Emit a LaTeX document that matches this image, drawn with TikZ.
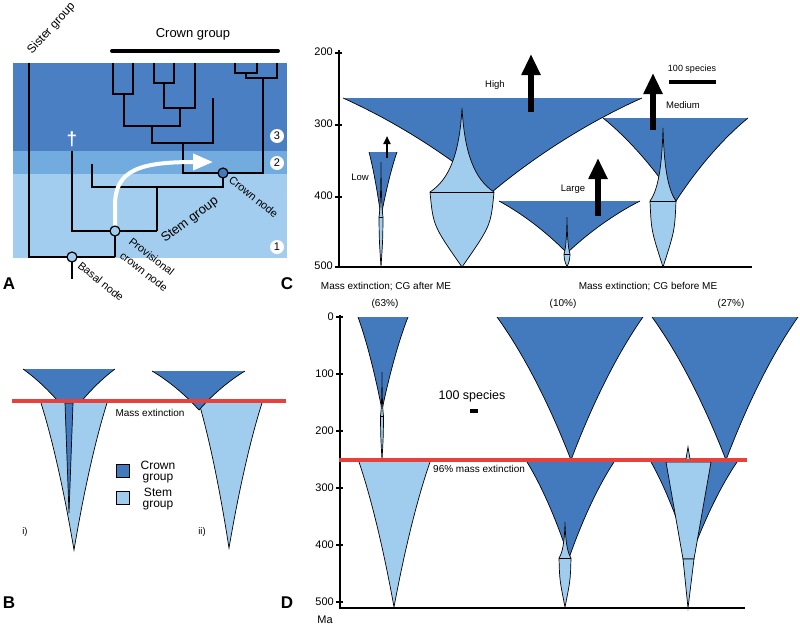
\documentclass[tikz,border=0pt]{standalone}
\usepackage{fontspec}
\setmainfont{Liberation Sans}
\usetikzlibrary{arrows.meta}
\definecolor{crownc}{HTML}{437ABE}
\definecolor{stemc}{HTML}{A0CDEE}
\definecolor{bandthree}{HTML}{4A80C3}
\definecolor{bandtwo}{HTML}{72ABDE}
\definecolor{bandone}{HTML}{A3CDEF}
\definecolor{redline}{HTML}{E8403A}
\tikzset{
  edge/.style={draw=black, line width=0.7pt},
  tree/.style={line width=2.3pt, line join=miter},
  nodec/.style={circle, draw=black, line width=1.2pt, minimum size=10pt, inner sep=0pt},
  numc/.style={circle, fill=white, minimum size=14pt, inner sep=0pt, font=\fontsize{11}{13}\selectfont},
  lblA/.style={font=\fontsize{13}{15}\selectfont, inner sep=0pt},
  lblS/.style={font=\fontsize{11}{13}\selectfont, inner sep=0pt},
  lblC/.style={font=\fontsize{9.5}{11}\selectfont, inner sep=0pt},
  lblT/.style={font=\fontsize{10}{12}\selectfont, inner sep=0pt},
  tickl/.style={font=\fontsize{11}{13}\selectfont, inner sep=0pt, anchor=east},
  letter/.style={font=\bfseries\fontsize{17}{19}\selectfont, inner sep=0pt},
  legbox/.style={draw=black, line width=0.8pt, minimum width=13pt, minimum height=13pt, inner sep=0pt},
  legtxt/.style={font=\fontsize{12}{11}\selectfont, align=center, inner sep=0pt},
  axisln/.style={line width=2pt},
  redln/.style={redline, line width=4.5pt},
  bigarr/.style={line width=5.5pt, -{Triangle[length=21pt,width=18pt]}},
  smallarr/.style={line width=2pt, -{Triangle[length=8pt,width=7pt]}},
  whitearr/.style={white, line width=4pt, -{Triangle[length=20pt,width=16pt]}}
}
% trumpet: fill, xl, xr, ytop, xapex, yapex
\newcommand\trumpet[6]{%
  \fill[#1] (#2,#4) -- (#3,#4) .. controls ({#3+0.35*(#5-#3)},{#4+0.25*(#6-#4)}) and ({#3+0.7*(#5-#3)},{#4+0.6*(#6-#4)}) .. (#5,#6) .. controls ({#2+0.7*(#5-#2)},{#4+0.6*(#6-#4)}) and ({#2+0.35*(#5-#2)},{#4+0.25*(#6-#4)}) .. cycle;
  \draw[edge] (#3,#4) .. controls ({#3+0.35*(#5-#3)},{#4+0.25*(#6-#4)}) and ({#3+0.7*(#5-#3)},{#4+0.6*(#6-#4)}) .. (#5,#6) .. controls ({#2+0.7*(#5-#2)},{#4+0.6*(#6-#4)}) and ({#2+0.35*(#5-#2)},{#4+0.25*(#6-#4)}) .. (#2,#4);}
% spindle: fill, xc, ytop, ywide, halfwidth, ybottom
\newcommand\spindle[6]{%
  \filldraw[fill=#1, edge] (#2,#3) .. controls ({#2-0.08*#5},{#3+0.55*(#4-#3)}) and ({#2-0.4*#5},{#3+0.85*(#4-#3)}) .. ({#2-#5},#4) .. controls ({#2-0.9*#5},{#4+0.45*(#6-#4)}) .. (#2,#6) .. controls ({#2+0.9*#5},{#4+0.45*(#6-#4)}) .. ({#2+#5},#4) .. controls ({#2+0.4*#5},{#3+0.85*(#4-#3)}) and ({#2+0.08*#5},{#3+0.55*(#4-#3)}) .. cycle;
  \draw[edge] ({#2-#5},#4) -- ({#2+#5},#4);}
\begin{document}
\begin{tikzpicture}[x=1pt,y=-1pt]
\useasboundingbox[fill=white] (0,0) rectangle (800,627);

% ================= Panel A =================
\fill[bandthree] (13,63) rectangle (287,151);
\fill[bandtwo] (13,151) rectangle (287,174);
\fill[bandone] (13,174) rectangle (287,258);
\draw[line width=4pt, line cap=round] (112,51) -- (278,51);
\node[lblA] (cgl) at (193,34) {Crown group};
\node[font=\fontsize{12}{14}\selectfont, inner sep=0pt, rotate=48, anchor=base west] (sister) at (32,55) {Sister group};

\draw[tree] (29,63) -- (29,257) -- (115,257);
\draw[tree] (72,257) -- (72,279);
\draw[tree] (115,257) -- (115,231);
\draw[tree] (72,151) -- (72,231) -- (157,231);
\draw[tree] (157,231) -- (157,187);
\draw[tree] (92,164) -- (92,187) -- (223,187) -- (223,173);
\draw[tree] (183,143) -- (183,173) -- (263,173) -- (263,78);
\draw[tree] (246,73) -- (246,78) -- (277,78) -- (277,63);
\draw[tree] (235,63) -- (235,73) -- (257,73) -- (257,63);
\draw[tree] (152,126) -- (152,143) -- (213,143) -- (213,98);
\draw[tree] (124,94) -- (124,126) -- (180,126) -- (180,108);
\draw[tree] (113,63) -- (113,94) -- (133,94) -- (133,63);
\draw[tree] (164,83) -- (164,108) -- (195,108) -- (195,63);
\draw[tree] (154,63) -- (154,83) -- (174,83) -- (174,63);

\node[text=white, font=\bfseries\fontsize{19}{21}\selectfont, inner sep=0pt] (dag) at (72,139) {\textdagger};

\node[nodec, fill=stemc] (basal) at (72,257) {};
\node[nodec, fill=stemc] (prov) at (115,231) {};
\node[nodec, fill=crownc] (crown) at (223,173) {};
\coordinate (arrtip) at (213,162);
\draw[whitearr] (prov.north) -- (115,205) .. controls (115,170) and (140,162) .. (arrtip);

\node[numc] (n3) at (277,136) {3};
\node[numc] (n2) at (277,163) {2};
\node[numc] (n1) at (277,247) {1};

\node[lblA, rotate=37, anchor=base west] (stemg) at (165,243) {Stem group};
\node[lblS, rotate=-39, anchor=base west] (crl) at (228,181) {Crown node};
\node[lblS, rotate=-38, anchor=base west] (provl1) at (128,243) {Provisional};
\node[lblS, rotate=-38, anchor=base west] (provl2) at (119,257) {crown node};
\node[lblS, rotate=-39, anchor=base west] (basl) at (77,267) {Basal node};

\node[letter] (la) at (9,284) {A};
\node[letter] (lc) at (287,284) {C};
\node[letter] (lb) at (9,603) {B};
\node[letter] (ld) at (287,603) {D};

% ================= Panel B =================
\trumpet{crownc}{23}{115}{369}{70}{416}
\trumpet{stemc}{41}{107}{403}{74}{550}
\filldraw[fill=crownc, edge] (65,403) -- (73,403) -- (69,513) -- cycle;
\trumpet{stemc}{199}{262}{403}{229}{548}
\trumpet{crownc}{152}{245}{371}{199}{410}
\draw[redln] (12,401) -- (286,401);
\node[lblT] (mexb) at (150,413) {Mass extinction};
\node[lblC] (li) at (25,532) {i)};
\node[lblC] (lii) at (202,532) {ii)};
\node[legbox, fill=crownc] (lgc) at (123,471) {};
\node[legtxt] (lgct) at (158,472) {Crown\\group};
\node[legbox, fill=stemc] (lgs) at (123,498) {};
\node[legtxt] (lgst) at (158,499) {Stem\\group};

% ================= Panel C =================
\draw[axisln] (339,50) -- (339,268);
\draw[axisln] (338,267) -- (752,267);
\foreach \yy/\tt in {53/200,125/300,197/400,267/500} {
  \draw[line width=1.5pt] (335,\yy) -- (342,\yy);
  \node[tickl] (tc\tt) at (333,{\yy-1}) {\tt};
}
\trumpet{crownc}{343}{642}{98}{492}{192}
\trumpet{crownc}{603}{748}{118}{676}{201}
\trumpet{crownc}{499}{640}{201}{567}{253}
\trumpet{crownc}{369}{397}{152}{381}{217}
\spindle{stemc}{462}{108}{192}{32}{267}
\spindle{stemc}{663}{128}{201}{13}{267}
\spindle{stemc}{567}{217}{254}{3}{267}
\spindle{stemc}{381}{162}{217}{2}{267}
\draw[bigarr] (531,112) -- (531,54);
\draw[bigarr] (653,130) -- (653,73);
\draw[bigarr] (598,216) -- (598,158);
\draw[smallarr] (387,158) -- (387,136);
\node[lblC] (high) at (495,85) {High};
\node[lblC] (med) at (683,105) {Medium};
\node[lblC] (large) at (573,189) {Large};
\node[lblC] (low) at (360,177) {Low};
\node[font=\fontsize{9}{11}\selectfont, inner sep=0pt] (sp1) at (692,69) {100 species};
\draw[line width=4pt] (669,82) -- (716,82);

% ================= Panel D =================
\draw[axisln] (340,315) -- (340,609);
\draw[axisln] (339,608) -- (745,608);
\foreach \yy/\tt in {317/0,374/100,431/200,488/300,545/400,602/500} {
  \draw[line width=1.5pt] (336,\yy) -- (343,\yy);
  \node[tickl] (td\tt) at (334,\yy) {\tt};
}
\node[font=\fontsize{11}{13}\selectfont, inner sep=0pt] (ma) at (325,620) {Ma};
\node[lblT] (h1) at (386,287) {Mass extinction; CG after ME};
\node[lblT] (h2) at (648,287) {Mass extinction; CG before ME};
\node[lblT] (p63) at (385,304) {(63\%)};
\node[lblT] (p10) at (563,304) {(10\%)};
\node[lblT] (p27) at (731,304) {(27\%)};
\node[font=\fontsize{12.5}{14}\selectfont, inner sep=0pt] (sp2) at (472,396) {100 species};
\draw[line width=3.5pt] (470,411) -- (478,411);

% D1
\trumpet{stemc}{359}{430}{462}{394}{607}
\trumpet{crownc}{358}{408}{317}{382}{410}
\spindle{stemc}{382}{372}{416}{1.5}{460}
% D2
\trumpet{crownc}{497}{643}{317}{571}{460}
\trumpet{crownc}{527}{614}{462}{569}{558}
\spindle{stemc}{565}{522}{558}{6}{607}
% D3
\trumpet{crownc}{652}{798}{317}{726}{460}
\trumpet{crownc}{651}{737}{462}{690}{559}
\filldraw[fill=stemc, edge] (666,462) -- (711,462) -- (694,559) -- (683,559) -- cycle;
\filldraw[fill=stemc, edge] (683,559) -- (694,559) -- (688,608) -- cycle;

\draw[redln] (339,460) -- (747,460);
\filldraw[fill=stemc, edge] (686,459) -- (688,447) -- (690,459);
\node[lblT, anchor=west] (mexd) at (433,469) {96\% mass extinction};
\end{tikzpicture}
\end{document}
